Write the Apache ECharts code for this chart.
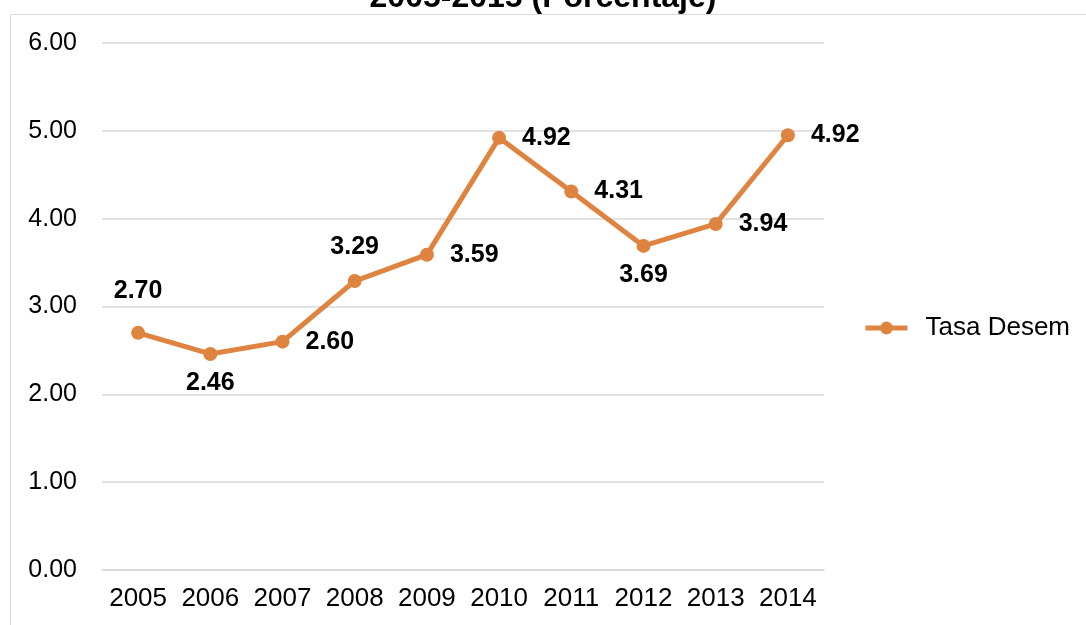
<!DOCTYPE html>
<html>
<head>
<meta charset="utf-8">
<script src="https://cdn.jsdelivr.net/npm/echarts@6/dist/echarts.min.js"></script>
<style>
  html, body { margin: 0; padding: 0; background: #fff; }
  #chart { width: 1086px; height: 625px; }
</style>
</head>
<body>
<div id="chart"></div>
<script>
const years = ['2005', '2006', '2007', '2008', '2009', '2010', '2011', '2012', '2013', '2014'];
const tasaDesem = [2.70, 2.46, 2.60, 3.29, 3.59, 4.92, 4.31, 3.69, 3.94, 4.95];
const labelText = ['2.70', '2.46', '2.60', '3.29', '3.59', '4.92', '4.31', '3.69', '3.94', '4.92'];

// where each data label sits relative to its point
const labelPos = ['top', 'bottom', 'right', 'top', 'right', 'right', 'right', 'bottom', 'right', 'right'];
const labelDist = [22, 10, 16, 14, 16, 16, 16, 10, 16, 16];

const chart = echarts.init(document.getElementById('chart'));

chart.setOption({
  animation: false,
  title: {
    text: '2005-2015 (Porcentaje)',
    left: 'center',
    top: -23,
    textStyle: { fontFamily: 'Liberation Sans', fontSize: 32, fontWeight: 'bold', color: '#000' }
  },
  graphic: [{
    type: 'rect',
    shape: { x: 10.5, y: 14.5, width: 1100, height: 700 },
    style: { fill: 'none', stroke: '#d9d9d9', lineWidth: 1 },
    silent: true,
    z: -1
  }],
  legend: {
    left: 858,
    top: 310,
    orient: 'vertical',
    itemWidth: 42,
    itemHeight: 16,
    lineStyle: { width: 5 },
    textStyle: {
      fontFamily: 'Liberation Sans',
      fontSize: 26,
      color: '#000',
      padding: [0, 0, 0, 13]
    },
    data: ['Tasa Desem']
  },
  grid: {
    left: 102,
    right: 262,
    top: 43,
    bottom: 55
  },
  xAxis: {
    type: 'category',
    data: years,
    axisLine: { lineStyle: { color: '#d9d9d9', width: 1.5 } },
    axisTick: { show: false },
    axisLabel: {
      interval: 0,
      hideOverlap: false,
      fontFamily: 'Liberation Sans',
      fontSize: 26,
      color: '#000',
      margin: 16
    }
  },
  yAxis: {
    type: 'value',
    min: 0,
    max: 6,
    interval: 1,
    axisLine: { show: false },
    axisTick: { show: false },
    splitLine: { lineStyle: { color: '#d9d9d9', width: 1.5 } },
    axisLabel: {
      fontFamily: 'Liberation Sans',
      fontSize: 25,
      color: '#000',
      margin: 25,
      formatter: v => v.toFixed(2)
    }
  },
  series: [{
    name: 'Tasa Desem',
    type: 'line',
    data: tasaDesem.map((v, i) => ({
      value: v,
      label: { position: labelPos[i], distance: labelDist[i] }
    })),
    symbol: 'circle',
    symbolSize: 14,
    lineStyle: { color: '#DF8440', width: 5 },
    itemStyle: { color: '#DF8440' },
    label: {
      show: true,
      fontFamily: 'Liberation Sans',
      fontSize: 25,
      fontWeight: 'bold',
      color: '#000',
      formatter: p => labelText[p.dataIndex]
    }
  }]
});
</script>
</body>
</html>
